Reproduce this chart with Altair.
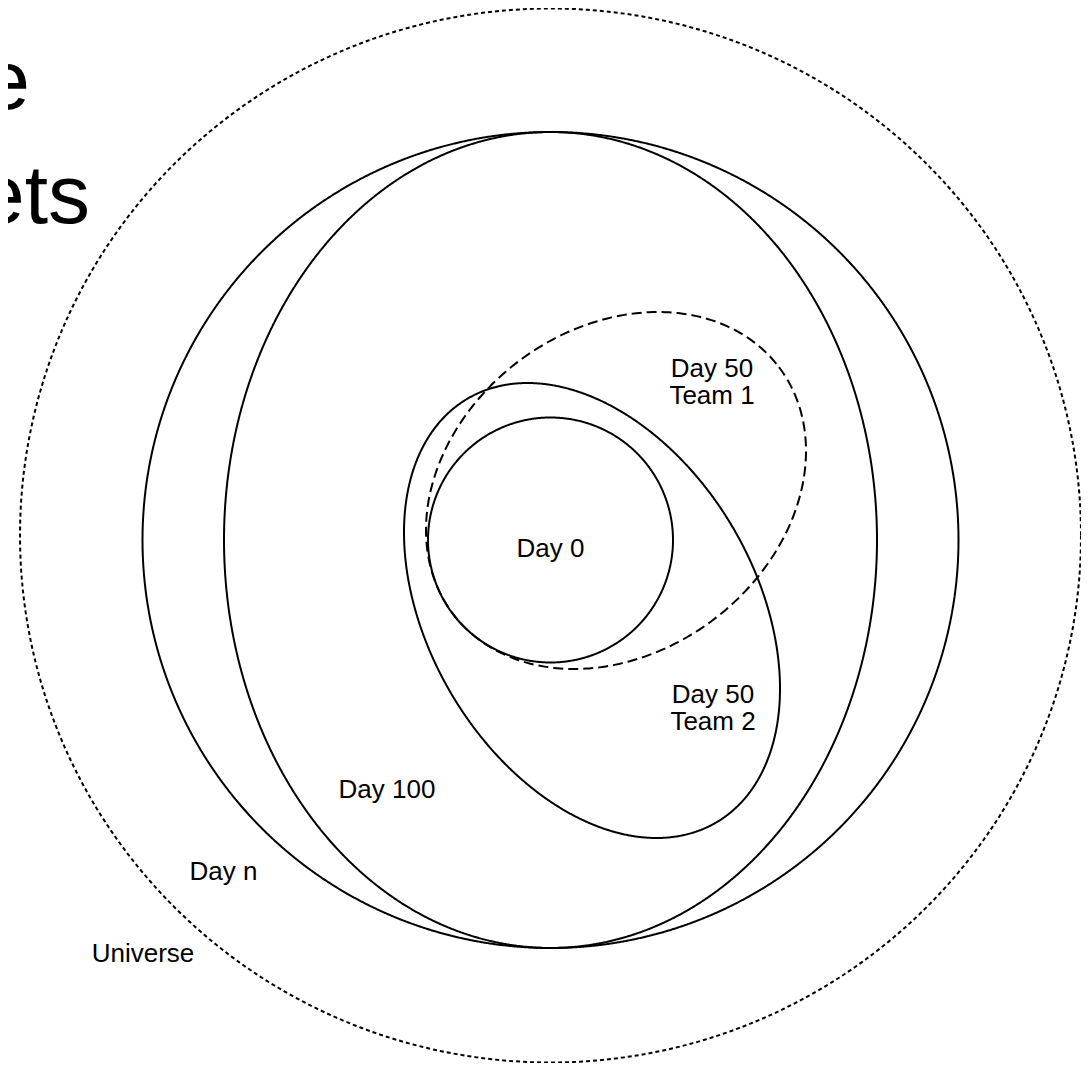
import numpy as np
import pandas as pd
import altair as alt

# ---- set outlines (image-pixel coordinates) ----
set_names = ["Universe", "Day n", "Day 100", "Day 50 Team 1", "Day 50 Team 2", "Day 0"]
center_x = [550.5, 550.5, 550.5, 616.0, 592.0, 550.5]
center_y = [535.5, 540.0, 540.0, 490.5, 610.5, 540.0]
semi_a = [530.5, 408.0, 326.5, 204.4, 245.7, 122.5]
semi_b = [527.0, 408.0, 408.0, 161.8, 163.5, 122.5]
tilt_deg = [0.0, 0.0, 0.0, -37.1, 59.6, 0.0]
line_style = ["dotted", "solid", "solid", "dashed", "solid", "solid"]

# ---- labels ----
label_text = ["Day 0", "Day 50\nTeam 1", "Day 50\nTeam 2", "Day 100", "Day n", "Universe"]
label_x = [550.5, 712.0, 713.0, 387.0, 223.5, 143.0]
label_y = [557.0, 377.0, 703.0, 798.0, 880.0, 962.0]

# ---- title (cut off at the left edge in the reference) ----
title_lines = ["Project Knowledge", "as Sets"]
title_right_x = [30.0, 90.0]
title_baseline_y = [109.0, 223.0]

# build outline table
rows = []
angles = np.deg2rad(np.arange(0, 361, 1.0))
for name, cx, cy, a, b, tdeg, st in zip(set_names, center_x, center_y, semi_a, semi_b, tilt_deg, line_style):
    p = np.deg2rad(tdeg)
    xs = cx + a * np.cos(angles) * np.cos(p) - b * np.sin(angles) * np.sin(p)
    ys = cy + a * np.cos(angles) * np.sin(p) + b * np.sin(angles) * np.cos(p)
    for i, (xx, yy) in enumerate(zip(xs, ys)):
        rows.append({"set": name, "style": st, "i": i, "x": float(xx), "y": float(yy)})
outline = pd.DataFrame(rows)

labels = pd.DataFrame({"text": label_text, "x": label_x, "y": label_y})
titles = pd.DataFrame({"text": title_lines, "x": title_right_x, "y": title_baseline_y})

W, H = 1073, 1055
xs_scale = alt.Scale(domain=[8, 8 + W], nice=False, zero=False)
ys_scale = alt.Scale(domain=[8, 8 + H], nice=False, zero=False, reverse=True)
X = lambda: alt.X("x:Q", scale=xs_scale, axis=None)
Y = lambda: alt.Y("y:Q", scale=ys_scale, axis=None)

lines = alt.Chart(outline).mark_line(color="black", strokeWidth=2).encode(
    x=X(),
    y=Y(),
    detail="set:N",
    order="i:Q",
    strokeDash=alt.StrokeDash(
        "style:N",
        scale=alt.Scale(domain=["solid", "dashed", "dotted"], range=[[1, 0], [10, 5], [4, 3]]),
        legend=None,
    ),
)

label_layer = alt.Chart(labels).mark_text(
    font="Liberation Sans", fontSize=26, color="black", align="center",
    baseline="alphabetic", lineBreak="\n", lineHeight=27,
).encode(x=X(), y=Y(), text="text:N")

title_layer = alt.Chart(titles).mark_text(
    font="Liberation Sans", fontSize=84, color="black", align="right", baseline="alphabetic",
).encode(x=X(), y=Y(), text="text:N")

chart = alt.layer(lines, label_layer, title_layer).properties(
    width=W, height=H, padding=0, autosize=alt.AutoSizeParams(type="none"),
    background="white",
).configure_view(stroke=None, strokeWidth=0)

chart.save("out.html", embed_options={"renderer": "svg", "actions": False})
